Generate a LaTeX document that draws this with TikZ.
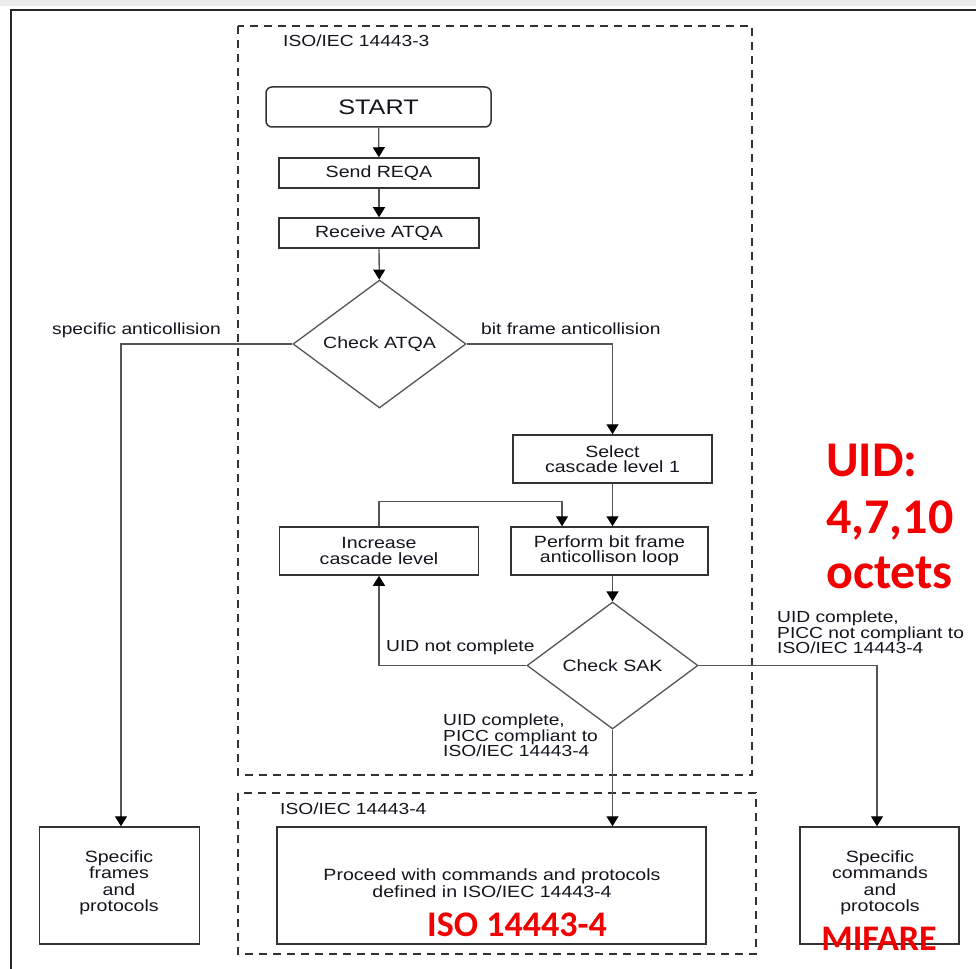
\documentclass[tikz,border=0pt]{standalone}
\usepackage{fontspec}
\setmainfont{Liberation Sans}[FakeStretch=1.2]
\newfontfamily\redfont{Carlito}
\usetikzlibrary{shapes.geometric,arrows.meta,calc}
\definecolor{ink}{HTML}{14141E}
\definecolor{edge}{HTML}{333333}
\definecolor{wire}{HTML}{555555}
\definecolor{hl}{HTML}{F00000}
\tikzset{
  box/.style={draw=edge,line width=1.5pt,fill=white,inner sep=2pt,align=center,text=ink,font=\fontsize{16.3}{16.5}\selectfont},
  dia/.style={diamond,draw=wire,line width=1.3pt,fill=white,inner sep=0pt,align=center,text=ink,font=\fontsize{16.3}{16}\selectfont},
  lab/.style={text=ink,inner sep=0pt,align=left,font=\fontsize{16}{15.5}\selectfont},
  flow/.style={draw=wire,line width=1.3pt,-{Triangle[width=12pt,length=10pt,color=black]}},
  zone/.style={draw=edge,line width=1.4pt,dash pattern=on 8pt off 6pt},
  note/.style={text=hl,inner sep=0pt,font=\redfont\bfseries\fontsize{36}{40}\selectfont}
}
\begin{document}
\begin{tikzpicture}[x=1pt,y=-1pt]
\useasboundingbox (0,0) rectangle (976,968);
\fill[white] (0,0) rectangle (976,968);
\fill[black!7] (0,0) rectangle (976,6);
\draw[line width=2pt,draw=black!85] (11,975) -- (11,10) -- (980,10);

% zones
\draw[zone] (238,26) rectangle (752,775);
\draw[zone] (238,793) rectangle (756,954);
\node[lab,anchor=base west] (z3) at (283,47) {ISO/IEC 14443-3};
\node[lab,anchor=base west] (z4) at (280,814) {ISO/IEC 14443-4};

% nodes
\node[box,rounded corners=6pt,minimum width=225pt,minimum height=40pt,font=\fontsize{21}{21}\selectfont] (start) at (378.5,107) {START};
\node[box,minimum width=200pt,minimum height=30pt] (reqa) at (379,173) {Send REQA};
\node[box,minimum width=200pt,minimum height=30pt] (atqa) at (379,233) {Receive ATQA};
\node[dia,minimum width=173pt,minimum height=128pt,aspect=1.35] (chk1) at (379.5,344) {Check ATQA};
\node[box,minimum width=199pt,minimum height=48pt,font=\fontsize{16.3}{15}\selectfont] (sel) at (612.5,459) {Select\\cascade level 1};
\node[box,minimum width=197pt,minimum height=48pt,font=\fontsize{16.3}{15.5}\selectfont] (perf) at (609.5,551) {Perform bit frame\\anticollison loop};
\node[box,minimum width=199pt,minimum height=48pt,font=\fontsize{16.3}{15.5}\selectfont] (inc) at (379,551) {Increase\\cascade level};
\node[dia,minimum width=171pt,minimum height=127pt,aspect=1.35] (chk2) at (612.5,665.5) {Check SAK};
\node[box,minimum width=160pt,minimum height=117pt] (sfp) at (119.5,885.5) {};
\node[box,draw=none,fill=none] (sfpt) at (119,883) {Specific\\frames\\and\\protocols};
\node[box,minimum width=429pt,minimum height=117pt] (proc) at (491.5,885.5) {};
\node[box,draw=none,fill=none] (proct) at (492,883) {Proceed with commands and protocols\\defined in ISO/IEC 14443-4};
\node[box,minimum width=159pt,minimum height=117pt] (mif) at (879.5,885.5) {};
\node[box,draw=none,fill=none] (mift) at (880,883) {Specific\\commands\\and\\protocols};

% connectors
\draw[flow] (start) -- (reqa);
\draw[flow] (reqa) -- (atqa);
\draw[flow] (atqa) -- (chk1);
\draw[flow] (chk1.west) -| ([xshift=1.5pt]sfp.north);
\draw[flow] (chk1.east) -| (sel.north);
\draw[flow] (sel.south) -- (sel.south |- perf.north);
\draw[flow] (inc.north) -- ++(0,-25) -| ([xshift=-47.5pt]perf.north);
\draw[flow] (sel.south |- perf.south) -- (chk2.north);
\draw[flow] (chk2.west) -| (inc.south);
\draw[flow] (chk2.east) -| ([xshift=-2.5pt]mif.north);
\draw[flow] (chk2.south) -- (chk2.south |- proc.north);

% labels
\node[lab,anchor=base west] (l1) at (52,334) {specific anticollision};
\node[lab,anchor=base west] (l2) at (481,334) {bit frame anticollision};
\node[lab,anchor=base west] (l3) at (386,651) {UID not complete};
\node[lab,anchor=north west] (l4) at (777,611) {UID complete,\\PICC not compliant to\\ISO/IEC 14443-4};
\node[lab,anchor=north west] (l5) at (443,714) {UID complete,\\PICC compliant to\\ISO/IEC 14443-4};

% red annotations
\node[note,anchor=base west] (n1) at (427,936) {ISO 14443-4};
\node[note,anchor=base] (n2) at (879,950) {MIFARE};
\node[note,anchor=base west,font=\redfont\bfseries\fontsize{50}{56}\selectfont] (n3) at (826,476) {UID:};
\node[note,anchor=base west,font=\redfont\bfseries\fontsize{50}{56}\selectfont] (n4) at (826,533) {4,7,10};
\node[note,anchor=base west,font=\redfont\bfseries\fontsize{50}{56}\selectfont] (n5) at (826,588) {octets};
\end{tikzpicture}
\end{document}
